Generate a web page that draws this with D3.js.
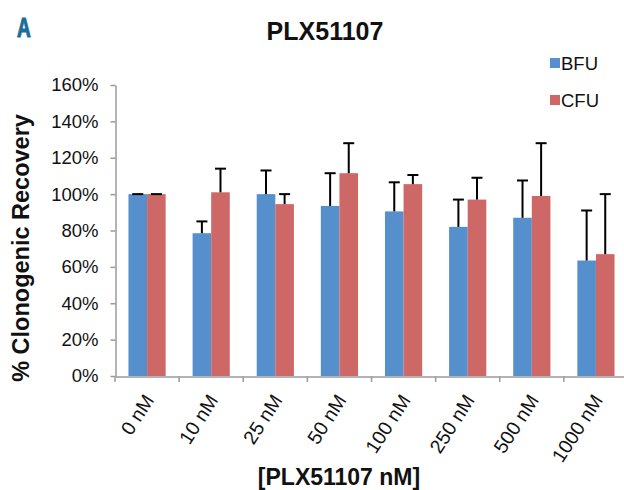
<!DOCTYPE html>
<html><head><meta charset="utf-8">
<script src="https://cdn.jsdelivr.net/npm/d3@7/dist/d3.min.js"></script>
<style>
body{margin:0;background:#fff;}
text{font-family:"Liberation Sans",Arial,sans-serif;}
</style></head>
<body><svg id="c" width="624" height="490"></svg>
<script>
const categories = ["0 nM","10 nM","25 nM","50 nM","100 nM","250 nM","500 nM","1000 nM"];
const seriesNames = ["BFU","CFU"];
const bfu = [1.00, 0.785, 1.00, 0.935, 0.905, 0.82, 0.87, 0.635];
const bfuErr = [0.00, 0.065, 0.13, 0.18, 0.16, 0.15, 0.205, 0.275];
const cfu = [1.00, 1.01, 0.945, 1.115, 1.055, 0.97, 0.99, 0.67];
const cfuErr = [0.00, 0.13, 0.055, 0.165, 0.05, 0.12, 0.29, 0.33];
const yTicks = [0,0.2,0.4,0.6,0.8,1.0,1.2,1.4,1.6];
const colors = ["#5690CC","#CE6866"];

const svg = d3.select("#c");
const x = d3.scaleBand().domain(categories).range([115,628]).padding(0);
const y = d3.scaleLinear().domain([0,1.6]).range([376,85]);
const series = [bfu, cfu];
const errs = [bfuErr, cfuErr];
const barW = x.bandwidth()*0.29;

// bars
series.forEach((vals, s) => {
  svg.append("g").selectAll("rect").data(vals).join("rect")
    .attr("x",(d,i)=>x(categories[i]) + x.bandwidth()/2 - barW + s*barW)
    .attr("y",d=>y(d))
    .attr("width",barW)
    .attr("height",d=>y(0)-y(d))
    .attr("fill",colors[s]);
});
// error bars
series.forEach((vals, s) => {
  const g = svg.append("g").attr("stroke","#000").attr("stroke-width",2);
  vals.forEach((v,i)=>{
    const cx = x(categories[i]) + x.bandwidth()/2 - barW/2 + s*barW;
    const top = y(v + errs[s][i]);
    g.append("line").attr("x1",cx).attr("x2",cx).attr("y1",y(v)).attr("y2",top);
    g.append("line").attr("x1",cx-5.5).attr("x2",cx+5.5).attr("y1",top).attr("y2",top);
  });
});

// y axis
const yAxis = svg.append("g").attr("transform","translate(115.5,0)")
  .call(d3.axisLeft(y).tickValues(yTicks).tickFormat(d3.format(".0%")).tickSize(5).tickPadding(12).tickSizeOuter(0));
yAxis.select(".domain").attr("stroke","#9a9a9a").attr("stroke-width",1.5);
yAxis.selectAll(".tick line").attr("stroke","#9a9a9a").attr("stroke-width",1.5);
yAxis.selectAll("text").attr("font-size",18.5).attr("fill","#111");

// x axis
const xAxis = svg.append("g").attr("transform","translate(0,376.5)")
  .call(d3.axisBottom(x).tickSize(0).tickSizeOuter(0).tickPadding(0));
xAxis.select(".domain").attr("stroke","#9a9a9a").attr("stroke-width",1.5);
xAxis.selectAll(".tick text")
  .attr("font-size",19.5).attr("fill","#111")
  .attr("text-anchor","end")
  .attr("transform","translate(2,20) rotate(-57)")
  .attr("dy","0.35em").attr("y",0);
svg.append("g").selectAll("line").data(categories.concat(["__end"])).join("line")
  .attr("x1",(d,i)=>115+i*x.step()).attr("x2",(d,i)=>115+i*x.step())
  .attr("y1",376.5).attr("y2",382)
  .attr("stroke","#9a9a9a").attr("stroke-width",1.5);

// titles
svg.append("text").attr("x",325).attr("y",40).attr("text-anchor","middle")
  .attr("font-size",25).attr("font-weight","bold").attr("fill","#111").text("PLX51107");
svg.append("text").attr("transform","translate(17,37) scale(0.68,1)")
  .attr("font-family","DejaVu Sans").attr("font-size",28).attr("font-weight","bold")
  .attr("fill","#1B6E99").attr("stroke","#1B6E99").attr("stroke-width",1.2).text("A");
svg.append("text").attr("transform","translate(29,248) rotate(-90)").attr("text-anchor","middle")
  .attr("font-size",23.5).attr("font-weight","bold").attr("fill","#111").text("% Clonogenic Recovery");
svg.append("text").attr("x",339).attr("y",485).attr("text-anchor","middle")
  .attr("font-size",23).attr("font-weight","bold").attr("fill","#111").text("[PLX51107 nM]");

// legend
const leg = svg.append("g");
seriesNames.forEach((n,i)=>{
  leg.append("rect").attr("x",550).attr("y",58+i*37).attr("width",10).attr("height",10).attr("fill",colors[i]);
  leg.append("text").attr("x",561).attr("y",70+i*37).attr("font-size",18.5).attr("fill","#111").text(n);
});
</script></body></html>
